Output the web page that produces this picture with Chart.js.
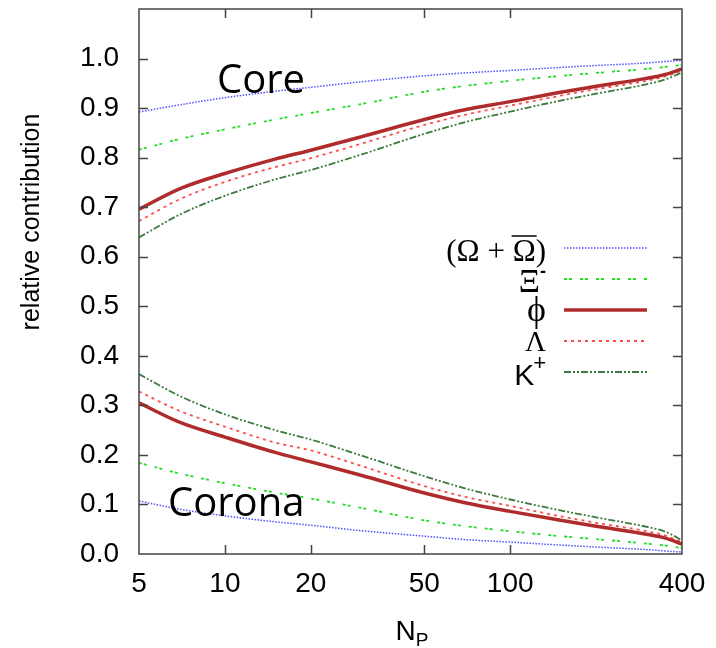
<!DOCTYPE html>
<html>
<head>
<meta charset="utf-8">
<script src="https://cdn.jsdelivr.net/npm/chart.js@4.4.1/dist/chart.umd.min.js"></script>
<style>
  html, body { margin: 0; padding: 0; background: #fff; }
  canvas { display: block; }
</style>
</head>
<body>
<canvas id="grafico" width="716" height="648"></canvas>
<script>
// Datos
const npValores = [5, 7, 10, 15, 20, 30, 50, 70, 100, 150, 200, 300, 350, 400];
const xTicks = [5, 10, 20, 50, 100, 400];

const coreOmega  = [0.892, 0.907, 0.921, 0.934, 0.942, 0.953, 0.965, 0.971, 0.976, 0.982, 0.986, 0.991, 0.994, 0.996];
const coronaOmega = [0.107, 0.090, 0.077, 0.065, 0.058, 0.047, 0.036, 0.029, 0.024, 0.018, 0.014, 0.009, 0.006, 0.004];

const coreXi   = [0.816, 0.838, 0.857, 0.877, 0.890, 0.908, 0.933, 0.945, 0.955, 0.965, 0.971, 0.979, 0.983, 0.987];
const coronaXi = [0.184, 0.162, 0.143, 0.124, 0.112, 0.093, 0.068, 0.056, 0.046, 0.036, 0.030, 0.021, 0.017, 0.012];

const corePhi   = [0.696, 0.738, 0.768, 0.797, 0.815, 0.842, 0.877, 0.897, 0.913, 0.932, 0.944, 0.960, 0.968, 0.979];
const coronaPhi = [0.305, 0.265, 0.236, 0.205, 0.186, 0.159, 0.123, 0.103, 0.086, 0.068, 0.056, 0.040, 0.032, 0.020];

const coreLambda   = [0.672, 0.717, 0.751, 0.781, 0.799, 0.828, 0.866, 0.887, 0.905, 0.925, 0.938, 0.955, 0.964, 0.976];
const coronaLambda = [0.328, 0.288, 0.257, 0.225, 0.209, 0.178, 0.137, 0.115, 0.097, 0.076, 0.063, 0.046, 0.037, 0.024];

const coreKaon   = [0.639, 0.686, 0.723, 0.756, 0.775, 0.806, 0.848, 0.872, 0.893, 0.915, 0.929, 0.948, 0.958, 0.972];
const coronaKaon = [0.363, 0.318, 0.282, 0.250, 0.231, 0.199, 0.157, 0.132, 0.110, 0.088, 0.074, 0.055, 0.045, 0.028];

// Estilos de cada especie
const especies = [
    { id: 'omega',  core: coreOmega,  corona: coronaOmega,  color: 'rgba(50, 50, 255, 0.85)', width: 1.5, dash: [1.5, 1.5] },
    { id: 'xi',     core: coreXi,     corona: coronaXi,     color: '#22dd22', width: 1.8, dash: [3, 2, 3, 8] },
    { id: 'phi',    core: corePhi,    corona: coronaPhi,    color: '#b02c2c', width: 3.5, dash: [] },
    { id: 'lambda', core: coreLambda, corona: coronaLambda, color: '#ff4d4d', width: 1.8, dash: [3, 4] },
    { id: 'kaon',   core: coreKaon,   corona: coronaKaon,   color: '#3d7a3d', width: 1.8, dash: [7, 2, 2, 2, 2, 2] }
];

function puntos(valores) {
    return npValores.map((x, i) => ({ x: x, y: valores[i] }));
}

const datasets = [];
especies.forEach(e => {
    ['core', 'corona'].forEach(parte => {
        datasets.push({
            label: e.id + '-' + parte,
            especie: e.id,
            data: puntos(e[parte]),
            borderColor: e.color,
            borderWidth: e.width,
            borderDash: e.dash,
            pointRadius: 0,
            fill: false,
            cubicInterpolationMode: 'monotone'
        });
    });
});

const FONT_SANS = '"Liberation Sans", Arial, sans-serif';
const FONT_SERIF = '"Liberation Serif", "Times New Roman", serif';

/**
 * Marco, marcas interiores, textos y leyenda
 */
const extras = {
    id: 'extras',
    afterDatasetsDraw(chart) {
        const ctx = chart.ctx;
        const a = chart.chartArea;
        const sx = chart.scales.x;
        const sy = chart.scales.y;

        ctx.save();
        // Marco
        ctx.strokeStyle = '#444';
        ctx.lineWidth = 1.5;
        ctx.setLineDash([]);
        ctx.strokeRect(a.left, a.top, a.right - a.left, a.bottom - a.top);

        // Marcas hacia dentro
        const largo = 9;
        ctx.beginPath();
        [10, 20, 50, 100].forEach(v => {
            const px = Math.round(sx.getPixelForValue(v)) + 0.5;
            ctx.moveTo(px, a.bottom); ctx.lineTo(px, a.bottom - largo);
            ctx.moveTo(px, a.top); ctx.lineTo(px, a.top + largo);
        });
        for (let k = 1; k <= 10; k++) {
            const py = Math.round(sy.getPixelForValue(k / 10)) + 0.5;
            ctx.moveTo(a.left, py); ctx.lineTo(a.left + largo, py);
            ctx.moveTo(a.right, py); ctx.lineTo(a.right - largo, py);
        }
        ctx.stroke();

        // Títulos internos
        ctx.fillStyle = '#000';
        ctx.textAlign = 'left';
        ctx.textBaseline = 'alphabetic';
        ctx.font = '40px "Open Sans", sans-serif';
        ctx.fillText('Core', 217, 93);
        ctx.fillText('Corona', 168, 516);

        // Título eje Y (desplazado hacia arriba como en el original)
        ctx.save();
        ctx.translate(32, 222);
        ctx.rotate(-Math.PI / 2);
        ctx.textAlign = 'center';
        ctx.textBaseline = 'middle';
        ctx.font = '25px ' + FONT_SANS;
        ctx.fillText('relative contribution', 0, 0);
        ctx.restore();

        // Título eje X: N_P
        ctx.textAlign = 'left';
        ctx.textBaseline = 'alphabetic';
        ctx.font = '28px ' + FONT_SANS;
        const wN = ctx.measureText('N').width;
        ctx.font = '19px ' + FONT_SANS;
        const wP = ctx.measureText('P').width;
        const x0 = 412 - (wN + wP) / 2;
        ctx.font = '28px ' + FONT_SANS;
        ctx.fillText('N', x0, 640);
        ctx.font = '19px ' + FONT_SANS;
        ctx.fillText('P', x0 + wN, 646);

        // Leyenda
        const derecha = 546;
        const lineaIni = 564, lineaFin = 647;
        especies.forEach((e, i) => {
            const y = 248 + i * 31;
            ctx.strokeStyle = e.color;
            ctx.lineWidth = e.width;
            ctx.setLineDash(e.dash);
            ctx.beginPath();
            ctx.moveTo(lineaIni, y);
            ctx.lineTo(lineaFin, y);
            ctx.stroke();
            ctx.setLineDash([]);

            ctx.fillStyle = '#000';
            ctx.textAlign = 'right';
            const base = y + 13;
            if (e.id === 'omega') {
                ctx.font = '31px ' + FONT_SERIF;
                ctx.fillText('(\u03A9 + \u03A9)', derecha, base);
                const wPar = ctx.measureText(')').width;
                const wOm = ctx.measureText('\u03A9').width;
                ctx.strokeStyle = '#000';
                ctx.lineWidth = 1.5;
                ctx.beginPath();
                ctx.moveTo(derecha - wPar - wOm - 1, base - 25);
                ctx.lineTo(derecha - wPar + 1, base - 25);
                ctx.stroke();
            } else if (e.id === 'xi') {
                ctx.font = 'bold 18px ' + FONT_SANS;
                const wSup = ctx.measureText('-').width;
                ctx.fillText('-', derecha, base - 15);
                ctx.font = '33px ' + FONT_SERIF;
                ctx.fillText('\u039E', derecha - wSup, base);
            } else if (e.id === 'phi') {
                ctx.font = '36px ' + FONT_SERIF;
                ctx.fillText('\u03D5', derecha, base - 2);
            } else if (e.id === 'lambda') {
                ctx.font = '29px ' + FONT_SERIF;
                ctx.fillText('\u039B', derecha, base - 3);
            } else {
                ctx.font = '22px ' + FONT_SANS;
                const wSup = ctx.measureText('+').width;
                ctx.fillText('+', derecha, base - 15);
                ctx.font = '30px ' + FONT_SANS;
                ctx.fillText('K', derecha - wSup + 1, base);
            }
        });
        ctx.restore();
    }
};

const ctxGrafico = document.getElementById('grafico').getContext('2d');
const grafico = new Chart(ctxGrafico, {
    type: 'line',
    data: { datasets: datasets },
    options: {
        responsive: false,
        animation: false,
        layout: { padding: { top: 9, right: 34, bottom: 0, left: 0 } },
        plugins: {
            legend: { display: false },
            tooltip: { enabled: false }
        },
        scales: {
            x: {
                type: 'logarithmic',
                min: 5,
                max: 400,
                grid: { display: false, drawTicks: false },
                border: { display: false },
                afterBuildTicks: (scale) => {
                    scale.ticks = xTicks.map(v => ({ value: v }));
                },
                afterFit: (scale) => {
                    scale.height = 94;
                    scale.paddingLeft = 0;
                    scale.paddingRight = 0;
                },
                ticks: {
                    autoSkip: false,
                    maxRotation: 0,
                    padding: 13,
                    color: '#000',
                    font: { family: FONT_SANS, size: 28 },
                    callback: (v) => String(v)
                }
            },
            y: {
                type: 'linear',
                min: 0,
                max: 1.1,
                grid: { display: false, drawTicks: false },
                border: { display: false },
                afterFit: (scale) => {
                    scale.width = 139;
                    scale.paddingTop = 0;
                    scale.paddingBottom = 0;
                },
                ticks: {
                    stepSize: 0.1,
                    padding: 20,
                    color: '#000',
                    font: { family: FONT_SANS, size: 28 },
                    callback: (v) => (v <= 1.0001 ? Number(v).toFixed(1) : '')
                }
            }
        }
    },
    plugins: [extras]
});
</script>
</body>
</html>
